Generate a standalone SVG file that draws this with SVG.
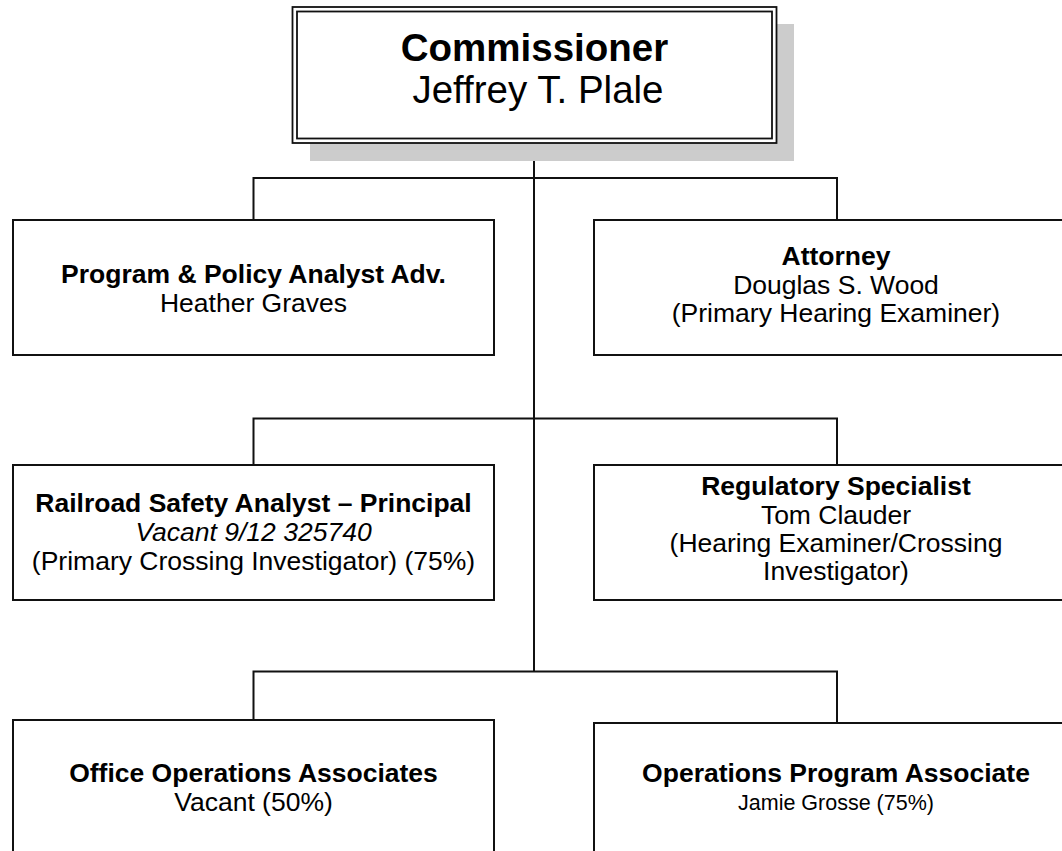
<svg xmlns="http://www.w3.org/2000/svg" width="1062" height="851" viewBox="0 0 1062 851">
<style>
.box{fill:#fff;stroke:#111;stroke-width:2}
.ln{fill:none;stroke:#111;stroke-width:2}
text{font-family:"Liberation Sans",Arial,sans-serif;fill:#000;text-anchor:middle}
.t{font-size:26.5px;font-weight:bold}
.n{font-size:26.5px}
.i{font-size:26.5px;font-style:italic}
.s{font-size:21.5px}
.big{font-size:38.5px}
</style>
<rect width="1062" height="851" fill="#fff"/>
<g id="connectors">
<path class="ln" d="M534 143V672"/>
<path class="ln" d="M253.5 220V178H837V220"/>
<path class="ln" d="M253.5 465V418.5H837V465"/>
<path class="ln" d="M253.5 720V671.5H837V723"/>
</g>
<g id="commissioner">
<rect x="310" y="24" width="484" height="137" fill="#cccccc"/>
<rect x="292.5" y="7" width="484" height="136" fill="#fff" stroke="#111" stroke-width="1.8"/>
<rect x="297" y="11.5" width="475" height="127" fill="none" stroke="#111" stroke-width="1.8"/>
<text class="big" x="534.5" y="61" font-weight="bold">Commissioner</text>
<text class="big" x="538" y="103">Jeffrey T. Plale</text>
</g>
<g id="policy-analyst">
<rect class="box" x="13" y="220" width="481" height="135"/>
<text class="t" x="253.5" y="283">Program &amp; Policy Analyst Adv.</text>
<text class="n" x="253.5" y="312">Heather Graves</text>
</g>
<g id="attorney">
<rect class="box" x="594" y="220" width="481" height="135"/>
<text class="t" x="836" y="265">Attorney</text>
<text class="n" x="836" y="294">Douglas S. Wood</text>
<text class="n" x="836" y="322">(Primary Hearing Examiner)</text>
</g>
<g id="railroad-analyst">
<rect class="box" x="13" y="465" width="481" height="135"/>
<text class="t" x="253.5" y="512">Railroad Safety Analyst – Principal</text>
<text class="i" x="253.5" y="541">Vacant 9/12 325740</text>
<text class="n" x="253.5" y="570">(Primary Crossing Investigator) (75%)</text>
</g>
<g id="regulatory-specialist">
<rect class="box" x="594" y="465" width="481" height="135"/>
<text class="t" x="836" y="495">Regulatory Specialist</text>
<text class="n" x="836" y="524">Tom Clauder</text>
<text class="n" x="836" y="552">(Hearing Examiner/Crossing</text>
<text class="n" x="836" y="580">Investigator)</text>
</g>
<g id="office-operations">
<rect class="box" x="13" y="720" width="481" height="160"/>
<text class="t" x="253.5" y="782">Office Operations Associates</text>
<text class="n" x="253.5" y="811">Vacant (50%)</text>
</g>
<g id="operations-program">
<rect class="box" x="594" y="723" width="481" height="160"/>
<text class="t" x="836" y="782">Operations Program Associate</text>
<text class="s" x="836" y="810">Jamie Grosse (75%)</text>
</g>
</svg>
